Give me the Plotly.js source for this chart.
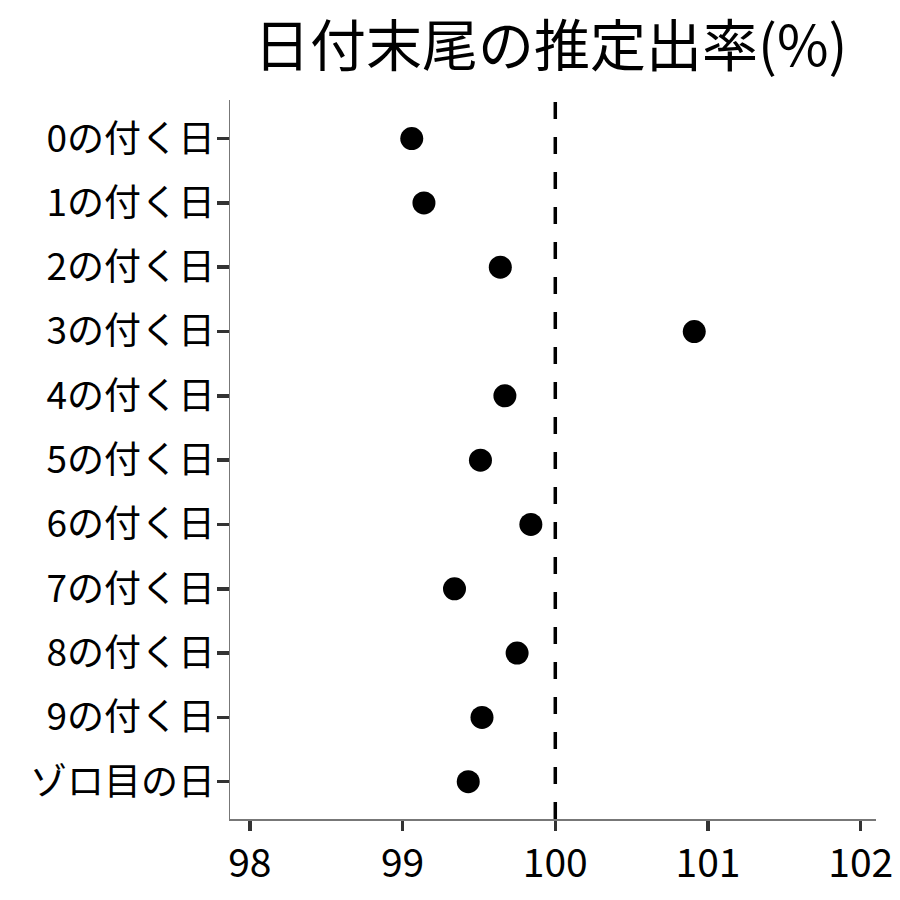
<!DOCTYPE html>
<html><head><meta charset="utf-8">
<script src="https://cdn.plot.ly/plotly-3.0.1.min.js"></script>
<style>html,body{margin:0;padding:0;background:#fff}#chart{width:900px;height:900px}</style>
</head><body><div id="chart"></div>
<script>
const categories = ["0の付く日","1の付く日","2の付く日","3の付く日","4の付く日","5の付く日","6の付く日","7の付く日","8の付く日","9の付く日","ゾロ目の日"];
const rates = [99.06, 99.14, 99.64, 100.91, 99.67, 99.51, 99.84, 99.34, 99.75, 99.52, 99.43];
const refValue = 100;
const xTicks = [98, 99, 100, 101, 102];
const titleText = "日付末尾の推定出率(%)";

const font = "Noto Sans CJK JP, Noto Sans, sans-serif";
const trace = {
  type: "scatter", mode: "markers",
  x: rates, y: categories,
  marker: {color: "#000", size: 23},
  cliponaxis: false, hoverinfo: "skip"
};
const layout = {
  width: 900, height: 900,
  paper_bgcolor: "#fff", plot_bgcolor: "#fff",
  margin: {l: 230, r: 24, t: 100, b: 81},
  title: {text: titleText, font: {family: font, size: 56, color: "#000"}, x: 0.612, xanchor: "center", y: 0.948, yanchor: "middle"},
  font: {family: font, color: "#000"},
  showlegend: false,
  xaxis: {
    range: [97.87, 102.1], tickvals: xTicks, ticktext: xTicks.map(String),
    showgrid: false, zeroline: false, showline: true, linecolor: "#777", linewidth: 1.5,
    ticks: "outside", ticklen: 10, tickwidth: 3.5, tickcolor: "#333",
    tickfont: {family: font, size: 39, color: "#000"}, fixedrange: true
  },
  yaxis: {
    type: "category", categoryorder: "array", categoryarray: categories,
    range: [10.58, -0.6], autorange: false,
    showgrid: false, zeroline: false, showline: true, linecolor: "#777", linewidth: 1.5,
    ticks: "outside", ticklen: 12, tickwidth: 3.5, tickcolor: "#333",
    ticklabelstandoff: -6,
    tickfont: {family: font, size: 37, color: "#000"}, fixedrange: true
  },
  shapes: [{
    type: "line", xref: "x", yref: "paper", x0: refValue, x1: refValue, y0: 0, y1: 1,
    line: {color: "#000", width: 3.5, dash: "17px,18px"}
  }]
};
Plotly.newPlot("chart", [trace], layout, {displayModeBar: false, staticPlot: true});
</script></body></html>
